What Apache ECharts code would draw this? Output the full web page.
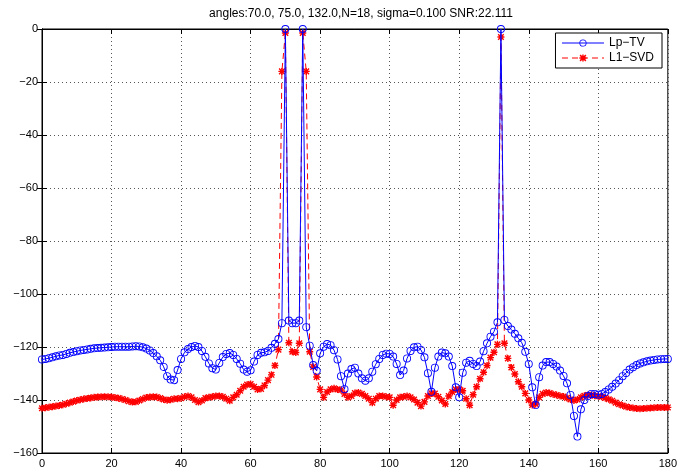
<!DOCTYPE html>
<html>
<head>
<meta charset="utf-8">
<script src="https://cdn.jsdelivr.net/npm/echarts@6/dist/echarts.min.js"></script>
<style>
  html, body { margin: 0; padding: 0; background: #fff; }
  #chart { width: 680px; height: 474px; }
</style>
</head>
<body>
<div id="chart"></div>
<script>
// angle grid, 1 degree step
var angles = [];
for (var a = 0; a <= 180; a++) angles.push(a);

// Lp-TV spectrum (dB)
var lpTv = [
  -124.7, -124.5, -124.2, -123.9, -123.5, -123.2, -123.0, -122.6, -122.2, -121.9,
  -121.6, -121.3, -121.1, -120.9, -120.7, -120.5, -120.4, -120.3, -120.2, -120.1,
  -120.0, -119.9, -119.9, -119.9, -119.9, -119.9, -119.8, -119.7, -119.8, -120.1,
  -120.6, -121.3, -122.3, -123.5, -125.0, -127.5, -131.0, -132.3, -132.5, -128.7,
  -124.5, -122.0, -120.8, -120.0, -119.6, -120.0, -121.5, -123.7, -126.2, -128.0,
  -128.5, -126.0, -123.8, -122.6, -122.3, -123.0, -124.5, -126.3, -128.5, -129.3,
  -128.8, -125.5, -123.0, -122.2, -122.0, -121.5, -120.3, -118.8, -117.0, -111.0,
  0, -110.0, -111.0, -111.0, -110.0, 0, -112.5, -119.5, -126.8, -129.0,
  -122.4, -119.9, -118.9, -119.3, -121.2, -124.7, -131.0, -135.9, -130.0, -128.3,
  -127.8, -130.0, -131.8, -132.7, -131.8, -129.3, -126.5, -124.5, -123.0, -122.5,
  -122.6, -123.6, -126.4, -130.6, -128.9, -124.3, -121.5, -120.1, -119.9, -121.1,
  -123.9, -129.9, -136.9, -127.8, -123.6, -122.1, -122.4, -123.6, -127.2, -135.2,
  -139.0, -129.7, -125.9, -125.2, -126.4, -127.2, -125.5, -121.6, -118.6, -116.1,
  -114.2, -110.7, 0, -109.8, -112.1, -113.4, -115.0, -116.7, -118.4, -121.8,
  -126.4, -135.2, -141.9, -131.4, -127.0, -125.7, -125.7, -126.4, -127.4, -128.9,
  -130.9, -133.7, -138.1, -146.0, -153.8, -143.5, -140.0, -138.5, -137.7, -137.7,
  -138.0, -137.7, -137.0, -136.0, -135.0, -133.8, -132.5, -131.0, -129.8, -128.5,
  -127.6, -126.8, -126.2, -125.8, -125.4, -125.1, -124.9, -124.7, -124.6, -124.5,
  -124.5
];

// L1-SVD spectrum (dB)
var l1Svd = [
  -143.1, -142.9, -142.7, -142.5, -142.3, -142.1, -141.8, -141.4, -141.0, -140.6,
  -140.2, -139.9, -139.6, -139.4, -139.2, -139.0, -138.9, -138.8, -138.8, -138.8,
  -138.9, -139.1, -139.3, -139.6, -140.0, -140.5, -140.8, -140.7, -140.2, -139.6,
  -139.1, -138.9, -138.8, -138.9, -139.3, -139.8, -140.1, -139.9, -139.5, -139.5,
  -139.3, -138.8, -138.5, -139.0, -140.0, -140.8, -140.2, -139.3, -139.0, -138.8,
  -138.5, -138.5, -138.8, -139.5, -140.3, -139.0, -138.0, -136.5, -135.0, -134.2,
  -134.0, -135.0, -136.0, -135.8, -134.5, -132.5, -130.5, -127.0, -121.0, -16.0,
  -1.5, -118.4, -121.8, -122.1, -118.6, -1.5, -16.0, -121.8, -127.5, -131.3,
  -136.0, -139.0, -137.0, -136.0, -135.6, -136.0, -136.2, -137.7, -139.0, -138.5,
  -137.4, -137.2, -137.7, -138.5, -139.5, -141.0, -139.5, -138.5, -138.5, -138.8,
  -139.0, -142.0, -140.0, -139.0, -138.8, -138.5, -139.0, -139.8, -141.0, -142.3,
  -140.7, -138.5, -137.5, -137.6, -138.8, -140.2, -141.5, -138.5, -137.0, -136.0,
  -136.0, -136.5, -139.5, -142.0, -138.0, -135.0, -132.0, -129.5, -127.0, -124.0,
  -122.0, -119.0, -3.0, -118.6, -124.3, -127.7, -130.2, -133.1, -135.0, -137.5,
  -140.0, -141.9, -141.5, -139.0, -137.7, -137.2, -137.4, -137.8, -138.1, -138.5,
  -138.7, -139.2, -139.8, -140.2, -139.8, -139.0, -138.4, -138.1, -138.1, -138.4,
  -138.6, -138.8, -139.2, -139.7, -140.3, -141.0, -141.6, -142.1, -142.5, -142.8,
  -143.0, -143.2, -143.3, -143.2, -143.1, -143.0, -142.9, -142.8, -142.8, -142.8,
  -142.8
];

var xTicks = [0, 20, 40, 60, 80, 100, 120, 140, 160, 180];
var yTicks = [-160, -140, -120, -100, -80, -60, -40, -20, 0];

var titleText = 'angles:70.0, 75.0, 132.0,N=18, sigma=0.100 SNR:22.111';

function pairs(ys) {
  return angles.map(function (x, i) { return [x, ys[i]]; });
}

var ring = 'path://M10,0 A10,10 0 1,1 9.99,0 Z M10,2.2 A7.8,7.8 0 1,0 10.01,2.2 Z';
var star = 'path://M8,0 L12,0 L12,20 L8,20 Z M0,8 L20,8 L20,12 L0,12 Z ' +
  'M3.41,0.59 L19.41,16.59 L16.59,19.41 L0.59,3.41 Z ' +
  'M16.59,0.59 L19.41,3.41 L3.41,19.41 L0.59,16.59 Z';

var font = 'Liberation Sans';
var minus = function (v) { return v < 0 ? '\u2212' + Math.abs(v) : String(v); };

var chart = echarts.init(document.getElementById('chart'));

var gridLine = { show: true, lineStyle: { color: '#555', type: [1, 3], width: 1 } };

var option = {
  animation: false,
  backgroundColor: '#fff',
  title: {
    text: titleText,
    left: 356,
    textAlign: 'center',
    top: 3,
    textStyle: { fontFamily: font, fontSize: 12, fontWeight: 'normal', color: '#000' }
  },
  legend: {
    orient: 'vertical',
    right: 18,
    top: 33,
    padding: [4, 8, 4, 6],
    itemGap: 3,
    itemWidth: 42,
    itemHeight: 9,
    backgroundColor: '#fff',
    borderColor: '#000',
    borderWidth: 1,
    borderRadius: 0,
    lineStyle: { width: 1 },
    textStyle: { fontFamily: font, fontSize: 12, color: '#000' },
    data: ['Lp\u2212TV', 'L1\u2212SVD']
  },
  grid: {
    left: 42,
    right: 10,
    top: 29,
    bottom: 21,
    show: true,
    borderColor: '#000',
    borderWidth: 1
  },
  xAxis: [{
    type: 'value',
    min: 0, max: 180, interval: 20,
    axisLine: { show: true, onZero: false, lineStyle: { color: '#000' } },
    axisTick: { show: true, inside: true, length: 5, lineStyle: { color: '#000' } },
    axisLabel: { fontFamily: font, fontSize: 11, color: '#000', margin: 5 },
    splitLine: gridLine
  }, {
    type: 'value', position: 'top',
    min: 0, max: 180, interval: 20,
    axisLine: { show: true, lineStyle: { color: '#000' } },
    axisTick: { show: true, inside: true, length: 5, lineStyle: { color: '#000' } },
    axisLabel: { show: false },
    splitLine: { show: false }
  }],
  yAxis: [{
    type: 'value',
    min: -160, max: 0, interval: 20,
    axisLine: { show: true, onZero: false, lineStyle: { color: '#000' } },
    axisTick: { show: true, inside: true, length: 5, lineStyle: { color: '#000' } },
    axisLabel: { fontFamily: font, fontSize: 11, color: '#000', margin: 4, formatter: minus },
    splitLine: gridLine
  }, {
    type: 'value', position: 'right',
    min: -160, max: 0, interval: 20,
    axisLine: { show: true, lineStyle: { color: '#000' } },
    axisTick: { show: true, inside: true, length: 5, lineStyle: { color: '#000' } },
    axisLabel: { show: false },
    splitLine: { show: false }
  }],
  series: [{
    name: 'Lp\u2212TV',
    type: 'line',
    data: pairs(lpTv),
    symbol: ring,
    symbolSize: 8,
    showSymbol: true,
    z: 3,
    lineStyle: { color: '#0000ff', width: 1 },
    itemStyle: { color: '#0000ff' }
  }, {
    name: 'L1\u2212SVD',
    type: 'line',
    data: pairs(l1Svd),
    symbol: star,
    symbolSize: 7,
    showSymbol: true,
    z: 2,
    lineStyle: { color: '#ff0000', width: 1, type: [6, 4] },
    itemStyle: { color: '#ff0000' }
  }]
};

chart.setOption(option);
</script>
</body>
</html>
